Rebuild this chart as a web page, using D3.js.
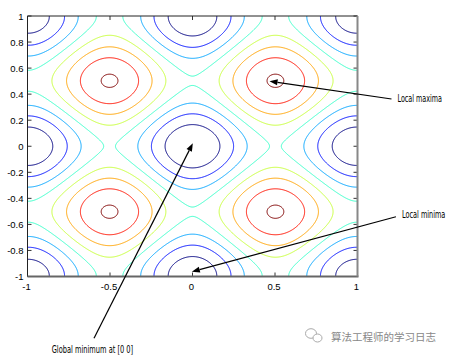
<!DOCTYPE html>
<html><head><meta charset="utf-8">
<script src="https://cdn.jsdelivr.net/npm/d3@7"></script>
<style>
body{margin:0;background:#fff;}
svg{display:block;}
</style></head>
<body>
<svg id="chart" width="455" height="356"></svg>
<script>
// ---- data ----
const xTicks = [-1, -0.5, 0, 0.5, 1];
const yTicks = [-1, -0.8, -0.6, -0.4, -0.2, 0, 0.2, 0.4, 0.6, 0.8, 1];
const xDomain = [-1, 1];
const yDomain = [-1, 1];
const contourLevels = [5, 10, 15, 20, 25, 30, 35, 40];
// Rastrigin's function parameters: f = 2A + x^2 + y^2 - A(cos 2πx + cos 2πy)
const rastriginA = 10;
const annotationTexts = ["Local maxima", "Local minima", "Global minimum at [0 0]"];
const annotationTips = [[0.467, 0.5], [-0.004, -0.963], [0.002, 0.023]];
const annotationTails = [[1.206, 0.363], [1.233, -0.541], [-0.597, -1.474]];
const watermark = "算法工程师的学习日志";

(function () {
// ---- layout ----
const svg = d3.select("#chart");
const pL = 27.5, pR = 357.5, pT = 16, pB = 276.5;
const xs = d3.scaleLinear().domain(xDomain).range([pL, pR]);
const ys = d3.scaleLinear().domain(yDomain).range([pB, pT]);

function rastrigin(x, y) {
  return 2 * rastriginA + x * x + y * y - rastriginA * (Math.cos(2 * Math.PI * x) + Math.cos(2 * Math.PI * y));
}
function jet(t) {
  const c = v => Math.max(0, Math.min(1, v));
  const r = c(1.5 - Math.abs(4 * t - 3)), g = c(1.5 - Math.abs(4 * t - 2)), b = c(1.5 - Math.abs(4 * t - 1));
  return d3.rgb(r * 255, g * 255, b * 255).formatHex();
}

// grid over a slightly larger region, clipped to the axes
const step = 0.004, g0 = -1.06;
const n = Math.round((1.06 - g0) / step) + 1;
const values = new Float64Array(n * n);
for (let j = 0; j < n; j++) {
  const y = g0 + j * step;
  for (let i = 0; i < n; i++) values[j * n + i] = rastrigin(g0 + i * step, y);
}
const contours = d3.contours().size([n, n]).thresholds(contourLevels)(values);
const proj = d3.geoTransform({
  point(x, y) { this.stream.point(xs(g0 + (x - 0.5) * step), ys(g0 + (y - 0.5) * step)); }
});
const path = d3.geoPath(proj);
const lo = d3.min(contourLevels), hi = d3.max(contourLevels);

svg.append("clipPath").attr("id", "clip").append("rect")
  .attr("x", pL).attr("y", pT).attr("width", pR - pL).attr("height", pB - pT);

svg.append("g").attr("clip-path", "url(#clip)")
  .selectAll("path").data(contours).join("path")
  .attr("d", path)
  .attr("fill", "none")
  .attr("stroke", d => jet((d.value - lo) / (hi - lo)))
  .attr("stroke-width", 1);

// ---- axes (MATLAB style box with inward ticks) ----
const tickLen = 4;
const axG = svg.append("g");
const font = "'Liberation Sans', Arial, sans-serif";
xTicks.forEach(v => {
  axG.append("line").attr("x1", xs(v)).attr("x2", xs(v)).attr("y1", pB).attr("y2", pB - tickLen).attr("stroke", "#333");
  axG.append("line").attr("x1", xs(v)).attr("x2", xs(v)).attr("y1", pT).attr("y2", pT + tickLen).attr("stroke", "#333");
  axG.append("text").attr("x", xs(v) - 1).attr("y", pB + 13.5).attr("text-anchor", "middle")
    .attr("font-family", font).attr("font-size", 9.5).attr("fill", "#000").text(v);
});
yTicks.forEach(v => {
  axG.append("line").attr("x1", pL).attr("x2", pL + tickLen).attr("y1", ys(v)).attr("y2", ys(v)).attr("stroke", "#333");
  axG.append("line").attr("x1", pR).attr("x2", pR - tickLen).attr("y1", ys(v)).attr("y2", ys(v)).attr("stroke", "#333");
  axG.append("text").attr("x", pL - 4).attr("y", ys(v) + 3.5).attr("text-anchor", "end")
    .attr("font-family", font).attr("font-size", 9.5).attr("fill", "#000").text(v);
});
axG.append("line").attr("x1", pL).attr("x2", pR).attr("y1", pT).attr("y2", pT).attr("stroke", "#222").attr("stroke-width", 1);
axG.append("line").attr("x1", pL).attr("x2", pL).attr("y1", pT).attr("y2", pB).attr("stroke", "#222").attr("stroke-width", 1);
axG.append("line").attr("x1", pL).attr("x2", pR + 1).attr("y1", pB).attr("y2", pB).attr("stroke", "#666").attr("stroke-width", 2);
axG.append("line").attr("x1", pR).attr("x2", pR).attr("y1", pT).attr("y2", pB).attr("stroke", "#888").attr("stroke-width", 2);

// ---- annotations ----
const annG = svg.append("g");
const textWidths = [44.6, 43.5, 81.6];
annotationTexts.forEach((t, k) => {
  const tx = xs(annotationTips[k][0]), ty = ys(annotationTips[k][1]);
  const sx = xs(annotationTails[k][0]), sy = ys(annotationTails[k][1]);
  const ang = Math.atan2(ty - sy, tx - sx);
  const hl = 8, hw = 3;
  const bx = tx - hl * Math.cos(ang), by = ty - hl * Math.sin(ang);
  annG.append("line").attr("x1", sx).attr("y1", sy).attr("x2", bx).attr("y2", by)
    .attr("stroke", "#000").attr("stroke-width", 1.2);
  const px = -Math.sin(ang), py = Math.cos(ang);
  annG.append("path")
    .attr("d", `M${tx},${ty}L${bx + hw * px},${by + hw * py}L${bx - hw * px},${by - hw * py}Z`)
    .attr("fill", "#000");
  // text drawn at its natural width, then squeezed horizontally to the condensed width of the reference
  const txt = annG.append("text")
    .attr("font-family", "'Liberation Sans Narrow', 'DejaVu Sans Condensed', sans-serif")
    .attr("font-size", 10).attr("fill", "#000")
    .attr("x", 0).attr("y", 0)
    .text(t);
  const natural = txt.node().getComputedTextLength();
  const sc = Math.min(1, textWidths[k] / natural);
  let ox, oy;
  if (k === 2) { ox = sx - 1.5 - textWidths[k] / 2; oy = sy + 14.5; }
  else { ox = sx + 6; oy = sy + (k === 0 ? 3 : 0.8); }
  txt.attr("transform", `translate(${ox},${oy}) scale(${sc},1)`);
});

// ---- watermark ----
const wm = svg.append("g");
wm.append("ellipse").attr("cx", 311).attr("cy", 333.5).attr("rx", 5.5).attr("ry", 4.8)
  .attr("fill", "#fff").attr("stroke", "#aaa").attr("stroke-width", 1);
wm.append("ellipse").attr("cx", 317.5).attr("cy", 338).attr("rx", 4.5).attr("ry", 4)
  .attr("fill", "#fff").attr("stroke", "#aaa").attr("stroke-width", 1);
wm.append("text").attr("x", 331).attr("y", 340.5)
  .attr("font-family", "'Noto Sans CJK SC', sans-serif").attr("font-size", 10.5)
  .attr("fill", "#888")
  .text(watermark);
})();
</script>
</body></html>
